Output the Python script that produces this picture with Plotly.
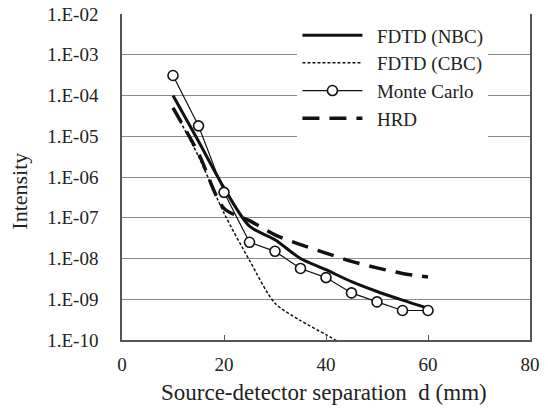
import plotly.graph_objects as go

# ---- data ----
d_mm = [10, 15, 20, 25, 30, 35, 40, 45, 50, 55, 60]
fdtd_nbc = [1.0e-4, 7.5e-6, 5.4e-7, 6.2e-8, 2.9e-8, 1.0e-8, 5.3e-9, 2.7e-9, 1.55e-9, 9.5e-10, 6.0e-10]
d_cbc = [10, 15, 20, 25, 30, 35, 40, 45]
fdtd_cbc = [5.0e-5, 3.2e-6, 1.3e-7, 9.0e-9, 8.0e-10, 3.0e-10, 1.35e-10, 6.0e-11]
monte_carlo = [3.1e-4, 1.8e-5, 4.2e-7, 2.5e-8, 1.5e-8, 5.7e-9, 3.4e-9, 1.43e-9, 8.6e-10, 5.3e-10, 5.3e-10]
hrd = [5.0e-5, 3.8e-6, 1.7e-7, 8.5e-8, 3.8e-8, 2.2e-8, 1.35e-8, 8.5e-9, 5.9e-9, 4.3e-9, 3.5e-9]

legend_names = ["\u00a0\u00a0FDTD (NBC)", "\u00a0\u00a0FDTD (CBC)", "\u00a0\u00a0Monte Carlo", "\u00a0\u00a0HRD"]

y_tickvals = [1e-10, 1e-9, 1e-8, 1e-7, 1e-6, 1e-5, 1e-4, 1e-3, 1e-2]
y_ticktext = ["1.E-10", "1.E-09", "1.E-08", "1.E-07", "1.E-06", "1.E-05", "1.E-04", "1.E-03", "1.E-02"]
x_tickvals = [0, 20, 40, 60, 80]

FONT = "Liberation Serif"
INK = "#111111"
TXT = "#222222"

fig = go.Figure()
fig.add_trace(go.Scatter(
    x=d_cbc, y=fdtd_cbc, name=legend_names[1], mode="lines", legendrank=2,
    line=dict(color=INK, width=1.5, dash="3px,2px", shape="spline", smoothing=0.8),
))
fig.add_trace(go.Scatter(
    x=d_mm, y=hrd, name=legend_names[3], mode="lines", legendrank=4,
    line=dict(color=INK, width=3.5, dash="17px,10px", shape="spline", smoothing=0.8),
))
fig.add_trace(go.Scatter(
    x=d_mm, y=fdtd_nbc, name=legend_names[0], mode="lines", legendrank=1,
    line=dict(color=INK, width=3, shape="spline", smoothing=0.8),
))
fig.add_trace(go.Scatter(
    x=d_mm, y=monte_carlo, name=legend_names[2], mode="lines+markers", legendrank=3,
    line=dict(color=INK, width=1.2),
    marker=dict(symbol="circle", size=10, color="white", line=dict(color=INK, width=1.6)),
))

fig.update_layout(
    width=548, height=412,
    margin=dict(l=122, r=18, t=14, b=72, autoexpand=False),
    paper_bgcolor="white", plot_bgcolor="white",
    font=dict(family=FONT, color=TXT, size=19),
    showlegend=True,
    legend=dict(
        x=0.43, y=0.993, xanchor="left", yanchor="top",
        bgcolor="white", borderwidth=0,
        font=dict(family=FONT, size=19, color=TXT),
        tracegroupgap=0, itemwidth=60,
    ),
    annotations=[
        dict(text="Intensity", xref="paper", yref="paper", x=-0.25, y=0.455,
             textangle=-90, showarrow=False, font=dict(family=FONT, size=22, color=TXT),
             xanchor="center", yanchor="middle"),
        dict(text="Source-detector separation  d (mm)", xref="paper", yref="paper",
             x=0.495, y=-0.16, showarrow=False, font=dict(family=FONT, size=23, color=TXT),
             xanchor="center", yanchor="middle"),
    ],
)

fig.update_xaxes(
    range=[0, 80], tickvals=x_tickvals, ticks="inside", ticklen=5, tickcolor="#555555",
    showgrid=False, showline=True, linecolor="#555555", linewidth=1.5, mirror=False,
    zeroline=False, tickfont=dict(family=FONT, size=19, color=TXT), ticklabelstandoff=6,
    automargin=False,
)
fig.update_yaxes(
    type="log", range=[-10, -2], tickvals=y_tickvals, ticktext=y_ticktext,
    ticks="", showgrid=True, gridcolor="#8a8a8a", gridwidth=1.3,
    showline=True, linecolor="#555555", linewidth=1.5, mirror=True,
    zeroline=False, tickfont=dict(family=FONT, size=19, color=TXT), ticklabelstandoff=18,
    automargin=False,
)

post = "document.body.style.margin='0';"
fig.write_html("out.html", config={"displayModeBar": False}, post_script=post)
